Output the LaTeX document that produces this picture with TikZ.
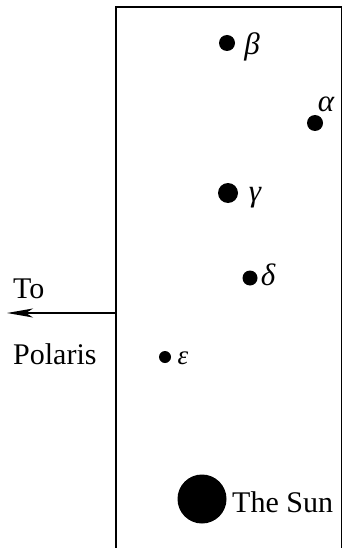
\documentclass[tikz,border=0pt]{standalone}
\usepackage{fontspec}
\setmainfont{Liberation Serif}
\usetikzlibrary{arrows.meta}
\begin{document}
\begin{tikzpicture}[x=1pt,y=-1pt,
  star/.style={circle,fill=black,inner sep=0pt,minimum size=#1},
  lbl/.style={font=\fontsize{30}{32}\selectfont,inner sep=0pt},
  glbl/.style={font=\itshape\fontsize{31}{33}\selectfont,inner sep=0pt},
  frame/.style={line width=1.4pt}]
\useasboundingbox (0,0) rectangle (344,548);
\coordinate (bl) at (116,548);
\coordinate (tl) at (116,7);
\coordinate (tr) at (341.5,7);
\coordinate (br) at (341.5,548);
\draw[frame] (bl) -- (tl) -- (tr);
\draw[line width=1pt] (tr) -- (br);
\coordinate (arrstart) at (116,313);
\coordinate (arrend) at (7,313);
\draw[line width=1.5pt,-{Stealth[length=26pt,width=9pt,inset=7pt]}] (arrstart) -- (arrend);
\node[lbl,anchor=base west] (to) at (13,298) {To};
\node[lbl,anchor=base west] (pol) at (13,364) {Polaris};
% stars
\node[star=16pt] (b) at (227,43) {};
\node[glbl] (bl1) at (252,47) {β};
\node[star=16pt] (a) at (315,123) {};
\node[glbl] (al) at (326,104) {α};
\node[star=20pt] (g) at (228,193) {};
\node[glbl] (gl) at (255,198) {γ};
\node[star=15pt] (d) at (250,278) {};
\node[glbl] (dl) at (268,275) {δ};
\node[star=12pt] (e) at (165,357) {};
\node[glbl,font=\itshape\fontsize{27}{29}\selectfont] (el) at (183,358) {ε};
\node[star=49pt] (s) at (202,499) {};
\node[lbl,anchor=base west] (sl) at (232,512) {The Sun};
\end{tikzpicture}
\end{document}
